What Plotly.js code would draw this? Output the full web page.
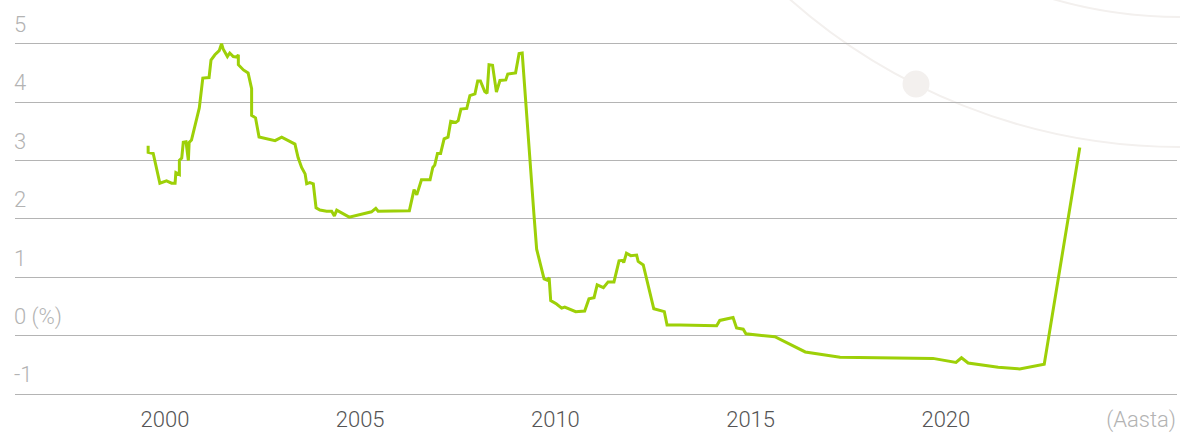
<!DOCTYPE html>
<html>
<head>
<meta charset="utf-8">
<script src="https://cdn.plot.ly/plotly-3.0.1.min.js"></script>
<style>html,body{margin:0;padding:0;background:#fff;}#chart{width:1180px;height:433px;}</style>
</head>
<body>
<div id="chart"></div>
<script>
const years = [
  1999.57,1999.57,1999.70,1999.87,2000.04,2000.17,2000.26,2000.28,2000.37,2000.37,
  2000.43,2000.47,2000.54,2000.60,2000.62,2000.68,2000.88,2000.97,2001.13,2001.18,
  2001.28,2001.39,2001.45,2001.49,2001.60,2001.66,2001.75,2001.84,2001.88,2001.88,
  2002.01,2002.13,2002.22,2002.22,2002.32,2002.41,2002.82,2002.99,2003.33,2003.41,
  2003.50,2003.59,2003.63,2003.71,2003.80,2003.87,2003.97,2004.14,2004.27,2004.34,
  2004.40,2004.57,2004.72,2005.29,2005.40,2005.46,2006.26,2006.38,2006.45,2006.57,
  2006.79,2006.86,2006.91,2006.98,2007.06,2007.15,2007.25,2007.32,2007.45,2007.51,
  2007.58,2007.73,2007.81,2007.94,2008.01,2008.08,2008.19,2008.25,2008.30,2008.39,
  2008.49,2008.58,2008.73,2008.78,2008.98,2009.07,2009.15,2009.45,2009.52,2009.71,
  2009.79,2009.84,2009.88,2010.03,2010.16,2010.24,2010.37,2010.52,2010.75,2010.86,
  2010.99,2011.07,2011.23,2011.35,2011.50,2011.63,2011.72,2011.75,2011.82,2011.93,
  2012.08,2012.12,2012.25,2012.52,2012.79,2012.86,2013.19,2014.13,2014.21,2014.55,
  2014.64,2014.81,2014.88,2015.62,2016.40,2017.29,2019.67,2020.26,2020.40,2020.57,
  2021.34,2021.89,2022.52,2023.43
];
const rates = [
  3.25,3.14,3.12,2.61,2.65,2.61,2.61,2.79,2.76,3.00,
  3.04,3.31,3.32,3.00,3.31,3.35,3.90,4.41,4.42,4.72,
  4.81,4.88,5.00,4.91,4.78,4.84,4.78,4.77,4.81,4.64,
  4.55,4.50,4.23,3.77,3.73,3.40,3.34,3.40,3.28,3.05,
  2.88,2.77,2.60,2.62,2.60,2.19,2.15,2.13,2.13,2.05,
  2.15,2.08,2.03,2.12,2.18,2.13,2.14,2.50,2.41,2.67,
  2.67,2.88,2.92,3.12,3.12,3.37,3.40,3.67,3.65,3.68,
  3.88,3.89,4.11,4.14,4.36,4.36,4.18,4.15,4.64,4.63,
  4.17,4.37,4.38,4.48,4.50,4.83,4.84,2.08,1.48,0.97,
  0.95,0.99,0.60,0.54,0.47,0.49,0.45,0.41,0.42,0.63,
  0.65,0.87,0.82,0.92,0.92,1.28,1.29,1.25,1.41,1.37,
  1.38,1.27,1.21,0.46,0.41,0.18,0.18,0.17,0.26,0.31,
  0.13,0.11,0.03,-0.02,-0.28,-0.37,-0.39,-0.46,-0.38,-0.47,
  -0.54,-0.57,-0.49,3.22
];
const yTickVals = [-1,0,1,2,3,4,5];
const yTickText = ['-1','0 (%)','1','2','3','4','5'];
const xTickVals = [2000,2005,2010,2015,2020,2025];
const xTickText = ['2000','2005','2010','2015','2020',"<span style='color:#b3b3b3'>(Aasta)</span>"];

const trace = {
  x: years, y: rates, type: 'scatter', mode: 'lines',
  line: {color: '#9dd008', width: 3, shape: 'linear'},
  hoverinfo: 'skip'
};

const deco = '#f3f0ee';
const layout = {
  width: 1180, height: 433,
  margin: {l: 15, r: 3, t: 0, b: 39},
  paper_bgcolor: '#ffffff', plot_bgcolor: 'rgba(0,0,0,0)',
  showlegend: false,
  font: {family: 'Roboto, sans-serif'},
  xaxis: {
    range: [1996.16, 2025.92],
    tickvals: xTickVals, ticktext: xTickText,
    showgrid: false, zeroline: false,
    showline: true, linecolor: '#b4b4b4', linewidth: 1,
    ticks: '', ticklabelstandoff: 6,
    tickfont: {family: 'Roboto', size: 22, color: '#555555', weight: 300}
  },
  yaxis: {
    range: [-1, 5.748],
    tickvals: yTickVals, ticktext: yTickText,
    showgrid: true, gridcolor: '#b4b4b4', gridwidth: 1,
    zeroline: false, showline: false, ticks: '',
    ticklabelposition: 'inside top',
    ticklabelstandoff: -4,
    ticklabelshift: -4,
    tickfont: {family: 'Roboto', size: 22, color: '#b3b3b3', weight: 300}
  },
  shapes: [
    {type: 'circle', xref: 'paper', yref: 'paper', layer: 'below',
     x0: 0.4957, x1: 1.5095, y0: 0.6269, y1: 3.6168,
     line: {color: deco, width: 2}, fillcolor: 'rgba(0,0,0,0)'},
    {type: 'circle', xref: 'paper', yref: 'paper', layer: 'below',
     x0: 0.6076, x1: 1.3976, y0: 0.9569, y1: 3.2868,
     line: {color: deco, width: 2}, fillcolor: 'rgba(0,0,0,0)'},
    {type: 'circle', xref: 'paper', yref: 'paper', layer: 'below',
     x0: 0.7638, x1: 0.7870, y0: 0.7525, y1: 0.8211,
     line: {width: 0}, fillcolor: deco}
  ]
};

Plotly.newPlot('chart', [trace], layout, {displayModeBar: false, staticPlot: true});
</script>
</body>
</html>
